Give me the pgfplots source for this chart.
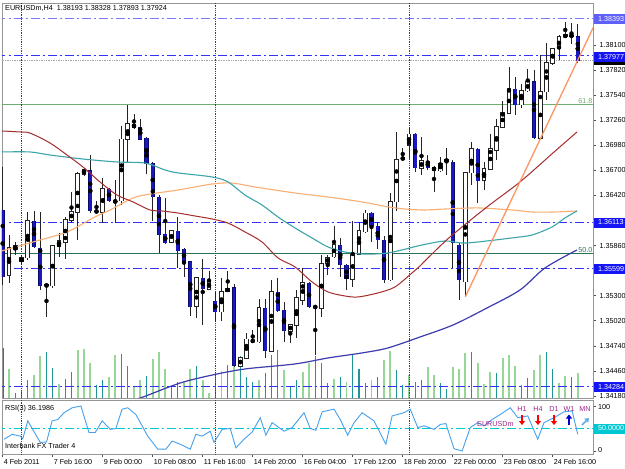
\documentclass[border=0pt]{standalone}
\usepackage{pgfplots}
\pgfplotsset{compat=1.18}
\usepackage{pgfplotstable}
\usepackage{fontspec}
\setmainfont{Liberation Sans}
\usetikzlibrary{arrows.meta}

\definecolor{frame}{RGB}{150,150,150}
\definecolor{bearout}{RGB}{10,10,110}
\definecolor{bearin}{RGB}{25,25,190}
\definecolor{wickc}{RGB}{35,35,35}
\definecolor{maorange}{RGB}{250,175,115}
\definecolor{mateal}{RGB}{60,165,170}
\definecolor{mared}{RGB}{165,45,45}
\definecolor{manavy}{RGB}{60,60,175}
\definecolor{trendc}{RGB}{250,150,100}
\definecolor{fibA}{RGB}{110,175,110}
\definecolor{fibB}{RGB}{40,115,85}
\definecolor{lvlblue}{RGB}{50,50,250}
\definecolor{lvllight}{RGB}{120,120,250}
\definecolor{volteal}{RGB}{30,150,150}
\definecolor{volgreen}{RGB}{150,215,150}
\definecolor{volbright}{RGB}{0,170,0}
\definecolor{rsic}{RGB}{70,160,235}
\definecolor{rsilvl}{RGB}{0,200,210}
\definecolor{boxblue}{RGB}{20,20,245}
\definecolor{boxlight}{RGB}{95,95,250}
\definecolor{purp}{RGB}{160,40,140}

\tikzset{mtdashdot/.style={dash pattern=on 9pt off 3pt on 2pt off 3pt}}
\pgfplotsset{
  mtpanel/.style={scale only axis, width=591pt, xmin=0.88, xmax=95.44,
     axis line style={draw=frame, line width=0.8pt},
     tick style={draw=black!70, line width=0.6pt},
     tick align=outside, major tick length=3pt,
     tick label style={font=\fontsize{7.2}{8}\selectfont},
     /pgf/number format/assume math mode=true},
  cbar/.style={only marks, mark=none, forget plot,
     error bars/.cd, y dir=both, y explicit, error mark=none},
}

% candles: x = bar index, o h l c = prices
\pgfplotstableread{
x o h l c
2 1.35531 1.35978 1.35442 1.35833
3 1.35821 1.35900 1.35755 1.35855
4 1.35677 1.35755 1.35643 1.35722
5 1.35722 1.36235 1.35699 1.36134
8 1.35409 1.35420 1.35063 1.35420
9 1.35409 1.35866 1.35387 1.35855
10 1.35855 1.36000 1.35733 1.35911
11 1.35900 1.36179 1.35710 1.36145
12 1.36145 1.36458 1.36111 1.36235
13 1.36235 1.36682 1.35922 1.36659
14 1.36659 1.36726 1.36637 1.36704
17 1.36235 1.36615 1.36111 1.36491
20 1.36358 1.37195 1.36313 1.37049
21 1.37049 1.37430 1.36781 1.37217
28 1.35900 1.36034 1.35888 1.36023
32 1.35185 1.35509 1.35052 1.35498
34 1.35375 1.35576 1.35364 1.35454
36 1.35119 1.35498 1.35018 1.35342
37 1.35353 1.35576 1.35342 1.35375
39 1.34515 1.34616 1.34500 1.34605
40 1.34605 1.34883 1.34593 1.34816
42 1.34784 1.35263 1.34772 1.35163
44 1.34683 1.35476 1.34672 1.35342
47 1.34906 1.34984 1.34772 1.34973
48 1.34973 1.35364 1.34828 1.35275
49 1.35252 1.35610 1.35196 1.35442
52 1.35163 1.35755 1.35063 1.35654
53 1.35665 1.35755 1.35531 1.35722
54 1.35733 1.36078 1.35722 1.35866
57 1.35486 1.36134 1.35398 1.35766
58 1.35766 1.36123 1.35755 1.36023
59 1.36012 1.36257 1.36000 1.36223
63 1.35476 1.36447 1.35465 1.36347
64 1.36347 1.37128 1.36246 1.36815
66 1.36983 1.37173 1.36838 1.37105
68 1.36726 1.37072 1.36648 1.36804
71 1.36693 1.36849 1.36682 1.36781
72 1.36804 1.36950 1.36648 1.36815
75 1.35454 1.36682 1.35286 1.36671
76 1.36671 1.37016 1.36536 1.36938
78 1.36592 1.36793 1.36480 1.36715
79 1.36715 1.37105 1.36704 1.36938
80 1.36927 1.37273 1.36815 1.37184
81 1.37184 1.37475 1.37173 1.37340
82 1.37340 1.37854 1.37329 1.37608
84 1.37430 1.37664 1.37397 1.37586
85 1.37586 1.37831 1.37575 1.37687
87 1.37061 1.37988 1.37049 1.37575
88 1.37575 1.38121 1.37486 1.37898
89 1.37898 1.38066 1.37876 1.38055
90 1.38055 1.38211 1.37932 1.38189
91 1.38189 1.38357 1.38178 1.38211
92 1.38200 1.38346 1.38110 1.38205
}\bull
\pgfplotstableread{
x o h l c
1 1.36257 1.36737 1.35420 1.35509
6 1.36134 1.36246 1.35833 1.35844
7 1.35833 1.36235 1.35364 1.35409
15 1.36693 1.36871 1.36223 1.36246
16 1.36246 1.36358 1.36223 1.36235
18 1.36491 1.36503 1.36347 1.36358
19 1.36358 1.36592 1.36111 1.36347
22 1.37217 1.37329 1.37161 1.37173
23 1.37184 1.37273 1.37039 1.37049
24 1.37061 1.37072 1.36659 1.36781
25 1.36781 1.36792 1.36134 1.36402
26 1.36402 1.36424 1.35777 1.35978
27 1.35989 1.36391 1.35877 1.35888
29 1.36023 1.36179 1.35610 1.35800
30 1.35821 1.35830 1.35509 1.35677
31 1.35677 1.35685 1.35074 1.35174
33 1.35498 1.35710 1.34973 1.35375
35 1.35241 1.35342 1.35007 1.35119
38 1.35387 1.35431 1.34505 1.34515
41 1.34806 1.34917 1.34772 1.34784
43 1.35163 1.35263 1.34605 1.34683
45 1.35342 1.35498 1.35119 1.35130
46 1.35141 1.35230 1.34784 1.34906
50 1.35442 1.35454 1.35163 1.35174
51 1.35185 1.35196 1.34638 1.35163
55 1.35866 1.35945 1.35509 1.35643
56 1.35643 1.35654 1.35364 1.35486
60 1.36223 1.36235 1.35900 1.36078
61 1.36078 1.36123 1.35821 1.35922
62 1.35922 1.35967 1.35442 1.35476
65 1.36838 1.36950 1.36815 1.36826
67 1.37105 1.37116 1.36682 1.36726
69 1.36804 1.36871 1.36704 1.36726
70 1.36737 1.36748 1.36458 1.36693
73 1.36792 1.36815 1.35610 1.35888
74 1.35866 1.35900 1.35252 1.35476
77 1.36938 1.36950 1.36335 1.36581
83 1.37608 1.37742 1.37318 1.37430
86 1.37687 1.37820 1.37050 1.37061
93 1.38193 1.38328 1.37893 1.37924
}\bear

\begin{document}
\begin{tikzpicture}[font=\fontsize{7.2}{8}\selectfont]
\useasboundingbox (0,0) rectangle (625pt,-469pt);
\fill[white] (0,0) rectangle (625pt,-469pt);

% ---------- volumes (own scale, overlaid on the price panel)
\begin{axis}[at={(2pt,-3pt)}, anchor=north west, scale only axis, width=591pt, height=395pt,
  xmin=0.88, xmax=95.44, ymin=0, ymax=39500, hide axis]
\addplot[ycomb, draw=volgreen, line width=1.8pt, mark=none] table {
x v
2 2900
6 2300
7 4200
10 1400
13 4800
14 4900
15 3500
18 2100
19 4300
22 1100
23 1800
25 3900
26 4600
27 2900
30 1600
31 2900
33 1800
34 500
36 2700
38 3600
42 1800
46 2800
49 2600
50 3500
54 1900
56 1600
60 1800
62 3800
63 4700
66 2300
69 3100
70 2300
73 3100
74 2900
75 4500
77 3500
78 1400
79 2600
81 4000
82 4300
83 3200
86 2800
87 4300
90 1500
91 2200
93 2500
};
\addplot[ycomb, draw=volteal, line width=1.2pt, mark=none] table {
x v
3 500
4 800
5 1800
8 4600
9 3000
11 1900
12 2600
16 1300
17 1800
20 4400
21 3200
24 2200
28 1100
29 1600
32 3200
35 2500
37 3300
39 4200
40 2100
41 1600
43 2500
44 4300
45 4800
47 1100
48 1800
51 4200
52 3500
53 1500
55 2100
57 4300
58 2900
59 1500
61 2100
64 2800
65 1300
67 1600
68 1800
71 1500
72 900
76 4600
80 2500
84 1300
85 2000
88 4600
89 2900
92 2100
};
\addplot[ycomb, draw=volbright, line width=1.5pt, mark=none] coordinates {(1,5000)};
\end{axis}

% ---------- price panel
\begin{axis}[mtpanel, at={(2pt,-3pt)}, anchor=north west, height=395pt,
  ymin=1.34158, ymax=1.38568, xtick=\empty,
  ytick={1.3418,1.3446,1.3474,1.3502,1.3530,1.3586,1.3642,1.3670,1.3698,1.3726,1.3754,1.3782,1.3810},
  ytick pos=right, yticklabel pos=right, scaled y ticks=false,
  y tick label style={/pgf/number format/fixed, /pgf/number format/fixed zerofill, /pgf/number format/precision=5},
]
% horizontal levels
\addplot[lvllight, line width=0.9pt, mtdashdot] coordinates {(0,1.38393) (100,1.38393)};
\addplot[black!35, densely dotted, line width=0.7pt] coordinates {(0,1.37924) (100,1.37924)};
\addplot[lvlblue, line width=0.9pt, mtdashdot] coordinates {(0,1.37977) (100,1.37977)};
\addplot[fibA, line width=1pt] coordinates {(0,1.37430) (100,1.37430)};
\addplot[fibB, line width=1pt] coordinates {(0,1.35766) (100,1.35766)};
\addplot[lvlblue, line width=0.9pt, mtdashdot] coordinates {(0,1.36113) (100,1.36113)};
\addplot[lvlblue, line width=0.9pt, mtdashdot] coordinates {(0,1.35599) (100,1.35599)};
\addplot[lvlblue, line width=0.9pt, mtdashdot] coordinates {(0,1.34284) (100,1.34284)};
% period separators
\addplot[black!75, densely dotted, line width=0.8pt] coordinates {(3.92,1.30) (3.92,1.40)};
\addplot[black!75, densely dotted, line width=0.8pt] coordinates {(34.95,1.30) (34.95,1.40)};
\addplot[black!75, densely dotted, line width=0.8pt] coordinates {(66,1.30) (66,1.40)};

% wicks
\addplot[cbar, error bar style={draw=wickc, line width=0.9pt}]
  table[x=x, y expr={0.5*(\thisrow{h}+\thisrow{l})}, y error expr={0.5*(\thisrow{h}-\thisrow{l})}] {\bull};
\addplot[cbar, error bar style={draw=wickc, line width=0.9pt}]
  table[x=x, y expr={0.5*(\thisrow{h}+\thisrow{l})}, y error expr={0.5*(\thisrow{h}-\thisrow{l})}] {\bear};
% bull bodies
\addplot[cbar, error bar style={draw=wickc, line width=4.6pt}]
  table[x=x, y expr={0.5*(\thisrow{o}+\thisrow{c})}, y error expr={0.5*(\thisrow{c}-\thisrow{o})+0.00006}] {\bull};
\addplot[cbar, error bar style={draw=white, line width=2.8pt}]
  table[x=x, y expr={0.5*(\thisrow{o}+\thisrow{c})}, y error expr={max(0.5*(\thisrow{c}-\thisrow{o})-0.00004,0)}] {\bull};
% bear bodies
\addplot[cbar, error bar style={draw=bearout, line width=4.4pt}]
  table[x=x, y expr={0.5*(\thisrow{o}+\thisrow{c})}, y error expr={0.5*(\thisrow{o}-\thisrow{c})+0.00005}] {\bear};
\addplot[cbar, error bar style={draw=bearin, line width=2.8pt}]
  table[x=x, y expr={0.5*(\thisrow{o}+\thisrow{c})}, y error expr={max(0.5*(\thisrow{o}-\thisrow{c})-0.00002,0)}] {\bear};

% moving averages
\addplot[maorange, line width=1.1pt, mark=none, smooth] coordinates {
(0.88,1.35800) (5.84,1.35900) (11.28,1.36012) (15.44,1.36168) (18.16,1.36257) (21.84,1.36391)
(24.56,1.36435) (29.04,1.36480) (34.48,1.36547) (37.68,1.36558) (41.36,1.36514) (47.76,1.36447)
(53.04,1.36402) (58.48,1.36347) (63.76,1.36280) (68.08,1.36257) (71.76,1.36268) (77.04,1.36280)
(82.48,1.36257) (85.68,1.36235) (89.36,1.36235) (92.88,1.36246)};
\addplot[mateal, line width=1.1pt, mark=none, smooth] coordinates {
(0.88,1.36905) (5.36,1.36905) (8.56,1.36871) (13.84,1.36826) (19.28,1.36793) (23.76,1.36781)
(26.96,1.36704) (29.04,1.36671) (34.48,1.36626) (37.04,1.36570) (39.76,1.36424) (42.48,1.36313)
(45.04,1.36179) (47.76,1.36056) (50.48,1.35945) (53.04,1.35844) (55.76,1.35788) (58.48,1.35766)
(60.56,1.35766) (62.64,1.35777) (64.88,1.35811) (68.08,1.35866) (71.76,1.35911) (74.48,1.35888)
(77.04,1.35900) (82.48,1.35945) (85.68,1.35978) (88.88,1.36067) (90.96,1.36168) (92.88,1.36246)};
\addplot[mared, line width=1pt, mark=none, smooth] coordinates {
(0.88,1.37139) (3.76,1.37128) (5.36,1.37116) (8.56,1.37005) (11.28,1.36871) (13.84,1.36737)
(16.56,1.36570) (19.28,1.36424) (21.84,1.36347) (24.56,1.36257) (26.48,1.36246) (29.04,1.36223)
(31.76,1.36190) (34.48,1.36157) (37.04,1.36111) (39.76,1.36012) (42.48,1.35900) (45.04,1.35722)
(47.76,1.35621) (50.48,1.35454) (53.04,1.35342) (55.76,1.35297) (57.84,1.35286) (61.04,1.35331)
(63.76,1.35398) (66.48,1.35554) (67.76,1.35632) (69.04,1.35722) (72.56,1.35956) (78.48,1.36291)
(83.76,1.36570) (89.04,1.36894) (92.88,1.37128)};
\addplot[manavy, line width=1.2pt, mark=none, smooth] coordinates {
(20.8,1.34113) (23.44,1.34169) (29.36,1.34325) (34.56,1.34415) (39.76,1.34482) (47.76,1.34538)
(53.04,1.34605) (58.48,1.34661) (62.64,1.34717) (67.76,1.34839) (73.04,1.34973) (78.48,1.35163)
(83.76,1.35364) (87.76,1.35610) (92.88,1.35811)};
% trend line
\addplot[trendc, line width=1.3pt, mark=none] coordinates {(75,1.35286) (96,1.38371)};

\node[anchor=south west, text=fibA, inner sep=1pt] at (axis cs:92.9,1.37430) {61.8};
\node[anchor=south west, text=fibB, inner sep=1pt] at (axis cs:92.9,1.35766) {50.0};
\end{axis}

% ---------- RSI panel
\begin{axis}[mtpanel, at={(2pt,-400pt)}, anchor=north west, height=54pt,
  ymin=-6.7, ymax=113.3, ytick={0,100}, yticklabels={}, ytick pos=right,
  xtick={1,9,...,89},
  xticklabels={4 Feb 2011,7 Feb 16:00,9 Feb 00:00,10 Feb 08:00,11 Feb 16:00,14 Feb 20:00,16 Feb 04:00,17 Feb 12:00,18 Feb 20:00,22 Feb 00:00,23 Feb 08:00,24 Feb 16:00},
  xtick pos=left, xticklabel style={anchor=north west, xshift=-2.5pt, yshift=1pt},
]
\addplot[rsilvl, line width=0.9pt, mtdashdot] coordinates {(0,50) (100,50)};
\addplot[black!75, densely dotted, line width=0.8pt] coordinates {(3.92,-20) (3.92,130)};
\addplot[black!75, densely dotted, line width=0.8pt] coordinates {(34.95,-20) (34.95,130)};
\addplot[black!75, densely dotted, line width=0.8pt] coordinates {(66,-20) (66,130)};
\addplot[rsic, line width=0.9pt, mark=none] coordinates {
(1.2,26) (2.5,37) (3.8,33) (4.2,27) (5.0,67) (7.0,19) (8.0,20) (8.9,67) (9.8,70) (10.8,85)
(12.1,96) (13.5,100) (14.8,41) (15.8,41) (16.9,67) (18.2,48) (19.1,50) (20.1,93) (21.0,96)
(22.3,81) (24.2,33) (25.8,4) (27.1,4) (28.1,22) (29.4,15) (31.0,4) (31.9,37) (32.9,33)
(34.2,44) (34.8,19) (36.1,48) (37.4,50) (38.3,7) (39.6,26) (40.9,42) (42.2,74) (43.1,35)
(44.1,63) (46.0,44) (47.3,52) (49.2,85) (50.2,50) (51.1,46) (52.1,87) (54.0,93) (55.0,70)
(56.2,35) (57.2,63) (58.5,85) (60.4,67) (62.3,15) (63.3,78) (65.2,85) (66.2,93) (67.4,52)
(68.4,56) (70.0,48) (71.0,59) (71.9,61) (73.2,5) (74.5,0) (75.8,52) (77.0,63) (78.0,56)
(79.3,70) (80.6,81) (82.2,96) (83.4,74) (85.0,78) (86.6,26) (87.6,63) (89.2,74) (90.8,87)
(92.1,89) (93.0,37)};
\end{axis}

% ---------- texts and price boxes
\node[anchor=west, inner sep=0pt] at (5pt,-8pt) {EURUSDm,H4\ \ 1.38193 1.38328 1.37893 1.37924};
\node[anchor=west, inner sep=0pt] at (5pt,-409pt) {RSI(3) 36.1986};
\node[anchor=west, inner sep=0pt] at (5pt,-446pt) {Interbank FX Trader 4};
\node[anchor=west, inner sep=0pt] at (598pt,-407pt) {100};
\node[anchor=west, inner sep=0pt] at (598pt,-450pt) {0};

\fill[boxlight] (594pt,-14pt) rectangle (626pt,-24pt);
\node[anchor=west, text=white, inner sep=0pt] at (598pt,-19pt) {1.38393};
\fill[black] (594pt,-55.5pt) rectangle (626pt,-65pt);
\fill[boxblue] (594pt,-52pt) rectangle (626pt,-62pt);
\node[anchor=west, text=white, inner sep=0pt] at (598pt,-57pt) {1.37977};
\fill[boxblue] (594pt,-217.5pt) rectangle (626pt,-227.5pt);
\node[anchor=west, text=white, inner sep=0pt] at (598pt,-222.5pt) {1.36113};
\fill[boxblue] (594pt,-264pt) rectangle (626pt,-274pt);
\node[anchor=west, text=white, inner sep=0pt] at (598pt,-269pt) {1.35599};
\fill[boxblue] (594pt,-382pt) rectangle (626pt,-392pt);
\node[anchor=west, text=white, inner sep=0pt] at (598pt,-387pt) {1.34284};
\fill[rsilvl] (594pt,-423.5pt) rectangle (626pt,-433.5pt);
\node[anchor=west, text=white, inner sep=0pt] at (598pt,-428.5pt) {50.0000};

% signal panel labels
\node[anchor=west, text=purp, inner sep=0pt] at (477pt,-424pt) {EURUSDm};
\node[text=purp, inner sep=0pt] at (522pt,-409pt) {H1};
\node[text=purp, inner sep=0pt] at (538pt,-409pt) {H4};
\node[text=purp, inner sep=0pt] at (554pt,-409pt) {D1};
\node[text=purp, inner sep=0pt] at (569pt,-409pt) {W1};
\node[text=purp, inner sep=0pt] at (585pt,-409pt) {MN};
\foreach \xx in {522,538,554}{
  \draw[red, line width=1.8pt, -{Triangle[width=6pt,length=4pt]}] (\xx pt,-414.5pt) -- (\xx pt,-425pt);}
\draw[blue!80!black, line width=1.8pt, -{Triangle[width=6pt,length=4pt]}] (569pt,-425pt) -- (569pt,-414.5pt);
\draw[cyan!70!blue!60, line width=1.6pt, -{Triangle[width=5.5pt,length=4pt]}] (582pt,-425pt) -- (589pt,-418pt);
\end{tikzpicture}
\end{document}
